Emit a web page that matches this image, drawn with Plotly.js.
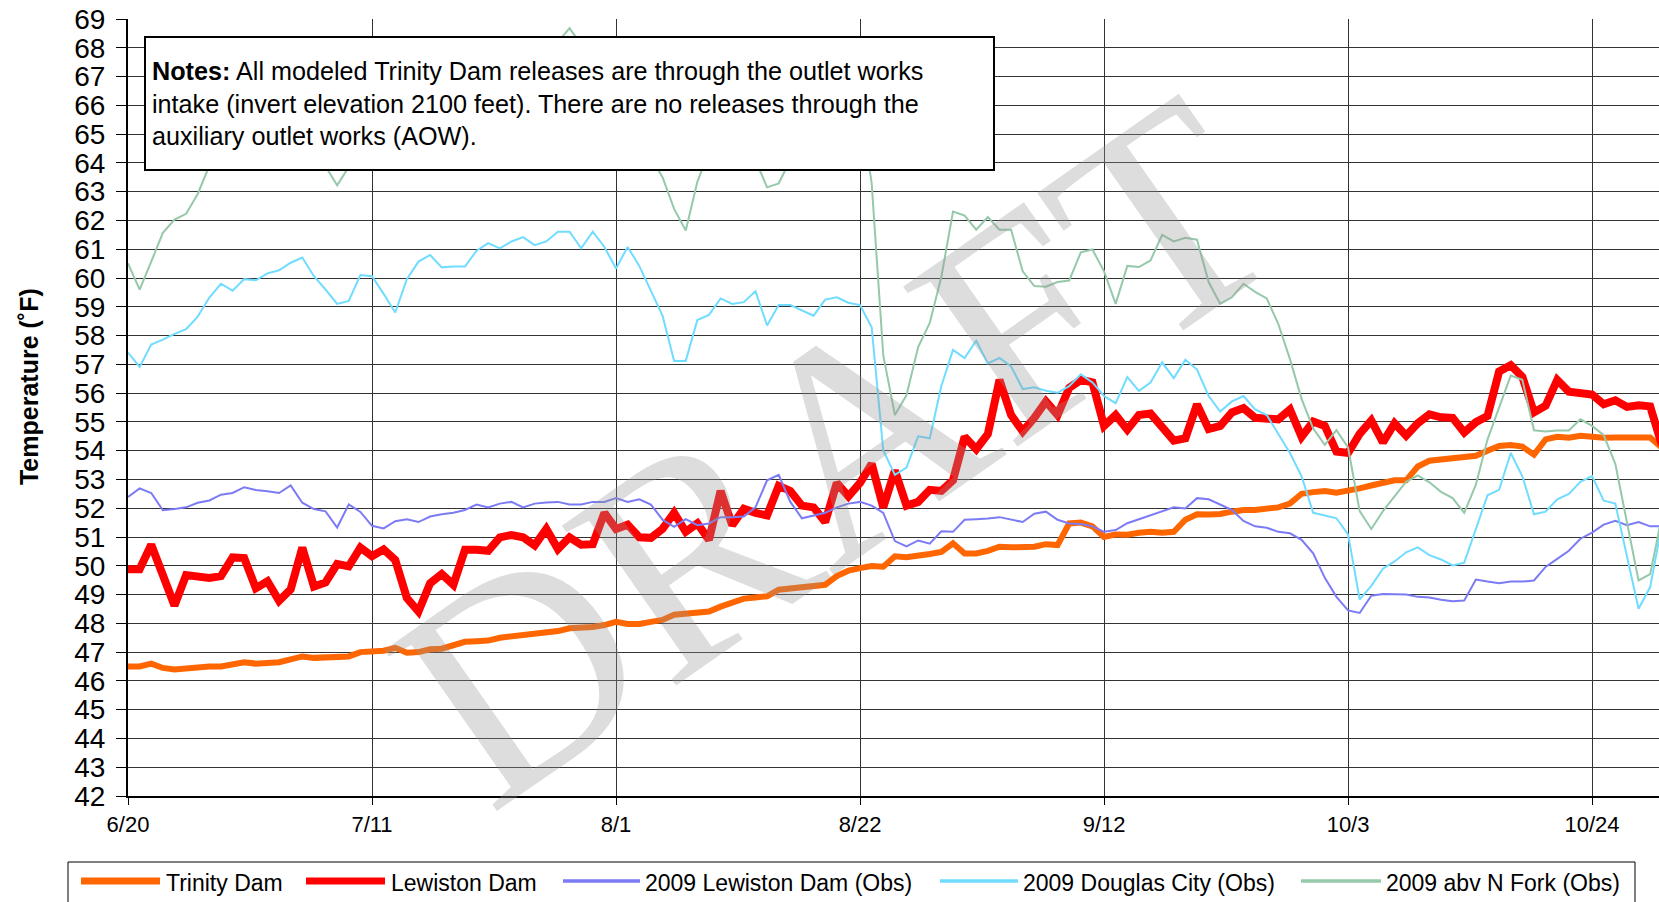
<!DOCTYPE html>
<html>
<head>
<meta charset="utf-8">
<script src="https://cdn.plot.ly/plotly-3.0.1.min.js"></script>
<style>
  html, body { margin: 0; padding: 0; background: #fff; }
  #chart { width: 1659px; height: 902px; }
</style>
</head>
<body>
<div id="chart"></div>
<script>
// ---- data (daily values starting 6/20/2009) ----
const startDate = [2009, 5, 20]; // 2009-06-20 (month index 5 = June)

const seriesNames = ['Trinity Dam', 'Lewiston Dam', '2009 Lewiston Dam (Obs)', '2009 Douglas City (Obs)', '2009 abv N Fork (Obs)'];

const trinityDam = [46.5,46.5,46.6,46.45,46.4,46.45,46.5,46.5,46.5,46.55,
46.65,46.6,46.6,46.65,46.75,46.85,46.8,46.8,46.85,46.85,
47.0,47.0,47.05,47.15,46.98,47.0,47.1,47.12,47.22,47.36,
47.38,47.4,47.5,47.55,47.55,47.6,47.65,47.73,47.83,47.83,
47.87,47.94,48.05,47.98,47.98,48.05,48.12,48.3,48.33,48.37,
48.41,48.58,48.73,48.86,48.9,48.94,49.17,49.2,49.26,49.3,
49.34,49.64,49.83,49.92,49.99,49.97,50.33,50.3,50.33,50.41,
50.48,50.78,50.43,50.43,50.52,50.66,50.64,50.64,50.66,50.75,
50.72,51.47,51.5,51.37,51.0,51.09,51.08,51.15,51.18,51.15,
51.18,51.6,51.79,51.78,51.8,51.88,51.94,51.94,51.97,52.03,
52.16,52.5,52.56,52.6,52.54,52.6,52.69,52.79,52.88,52.97,
52.97,53.45,53.65,53.7,53.75,53.77,53.82,54.0,54.16,54.2,
54.14,53.86,54.39,54.48,54.45,54.52,54.48,54.45,54.46,54.46,
54.46,54.46,54.1];

const lewistonDam = [49.88,49.88,50.73,49.72,48.62,49.68,49.62,49.58,49.64,50.29,
50.27,49.22,49.46,48.78,49.18,50.63,49.28,49.42,50.06,49.98,
50.63,50.33,50.57,50.2,48.88,48.41,49.39,49.71,49.34,50.56,
50.56,50.52,50.99,51.07,50.99,50.71,51.28,50.58,50.99,50.73,
50.75,51.84,51.28,51.43,50.99,50.97,51.28,51.84,51.18,51.47,
50.9,52.6,51.41,51.98,51.84,51.75,52.78,52.6,52.09,52.03,
51.52,52.88,52.41,52.88,53.54,52.03,53.31,52.09,52.22,52.64,
52.6,52.97,54.48,54.05,54.58,56.46,55.24,54.67,55.14,55.71,
55.24,56.18,56.46,56.37,54.86,55.24,54.73,55.24,55.29,54.77,
54.35,54.43,55.61,54.75,54.86,55.33,55.48,55.14,55.1,55.09,
55.43,54.48,55.01,54.86,53.97,53.92,54.58,55.05,54.29,54.95,
54.52,54.95,55.26,55.16,55.14,54.63,54.99,55.2,56.75,56.97,
56.56,55.33,55.56,56.46,56.05,56.02,55.95,55.61,55.75,55.52,
55.58,55.54,54.2];

const lewistonObs = [52.39,52.69,52.53,51.93,51.97,52.03,52.19,52.27,52.47,52.53,
52.73,52.63,52.59,52.53,52.79,52.19,51.97,51.89,51.33,52.13,
51.87,51.39,51.3,51.55,51.62,51.52,51.71,51.79,51.84,51.94,
52.13,52.03,52.16,52.22,52.03,52.16,52.2,52.22,52.13,52.13,
52.22,52.22,52.35,52.22,52.31,52.13,51.6,51.35,51.62,51.41,
51.47,51.69,51.69,51.71,52.03,52.97,53.16,52.22,51.65,51.75,
51.84,52.03,52.16,52.22,52.09,51.84,50.86,50.67,50.88,50.77,
51.2,51.18,51.6,51.62,51.64,51.69,51.6,51.52,51.81,51.88,
51.6,51.47,51.45,51.37,51.18,51.24,51.48,51.62,51.75,51.9,
52.03,51.99,52.35,52.31,52.13,51.94,51.56,51.37,51.32,51.18,
51.13,50.9,50.43,49.58,48.92,48.45,48.36,48.96,49.02,49.0,
49.0,48.92,48.9,48.82,48.77,48.79,49.52,49.45,49.39,49.45,
49.45,49.49,49.96,50.24,50.52,50.94,51.15,51.43,51.56,51.41,
51.52,51.37,51.37];

const douglasCityObs = [57.41,56.91,57.69,57.86,58.06,58.22,58.66,59.32,59.8,59.56,
59.96,59.92,60.16,60.27,60.53,60.71,60.06,59.6,59.1,59.2,
60.1,60.06,59.45,58.8,59.96,60.57,60.8,60.37,60.4,60.4,
60.95,61.21,61.03,61.27,61.42,61.14,61.27,61.61,61.61,61.03,
61.61,61.08,60.33,61.08,60.42,59.55,58.69,57.12,57.12,58.54,
58.72,59.29,59.1,59.16,59.54,58.35,59.06,59.06,58.88,58.69,
59.25,59.33,59.14,59.06,58.29,54.01,53.16,53.41,54.5,54.43,
56.25,57.5,57.22,57.82,57.03,57.22,56.93,56.14,56.2,56.08,
56.01,56.24,56.65,56.37,55.9,55.65,56.56,56.08,56.37,57.07,
56.52,57.16,56.82,55.9,55.36,55.71,55.9,55.43,55.24,54.58,
53.92,53.11,51.84,51.75,51.65,51.09,48.83,49.3,49.9,50.15,
50.47,50.64,50.37,50.22,50.01,50.11,51.28,52.45,52.64,53.92,
53.11,51.79,51.88,52.31,52.5,52.92,53.12,52.26,52.16,50.33,
48.51,49.26,51.4];

const abvNForkObs = [60.51,59.6,60.57,61.57,62.03,62.23,62.92,63.9,64.6,65.2,
65.5,65.8,66.0,65.6,65.0,64.6,64.3,63.88,63.22,63.88,
64.5,65.0,65.4,65.8,66.2,66.5,66.7,66.4,66.8,67.1,
66.9,67.2,67.4,67.1,67.5,67.7,67.9,68.2,68.68,68.1,
67.4,66.8,66.0,65.5,64.8,64.2,63.5,62.4,61.65,63.34,
64.4,65.0,64.7,64.2,64.1,63.15,63.29,64.1,64.8,65.3,
65.8,66.2,66.5,66.0,63.3,57.31,55.24,55.93,57.6,58.44,
60.04,62.31,62.17,61.68,62.12,61.68,61.68,60.23,59.72,59.7,
59.86,59.91,60.89,60.99,60.23,59.1,60.42,60.38,60.61,61.5,
61.27,61.4,61.33,59.86,59.1,59.33,59.8,59.52,59.29,58.4,
57.18,55.8,54.77,54.2,54.71,54.11,51.9,51.28,51.9,52.41,
52.92,53.14,52.9,52.57,52.35,51.84,52.82,54.39,55.48,56.61,
56.46,54.71,54.67,54.7,54.7,55.09,54.86,54.54,53.54,51.47,
49.49,49.71,51.7];

const tickDates = ['2009-06-20','2009-07-11','2009-08-01','2009-08-22','2009-09-12','2009-10-03','2009-10-24'];
const tickLabels = ['6/20','7/11','8/1','8/22','9/12','10/3','10/24'];
const xRange = ['2009-06-20', '2009-10-29 18:14'];
const yRange = [42, 69];

const notesText = '<b>Notes:</b> All modeled Trinity Dam releases are through the outlet works<br>intake (invert elevation 2100 feet). There are no releases through the<br>auxiliary outlet works (AOW).';
const yTitle = '&nbsp;&nbsp;&nbsp;&nbsp;&nbsp;&nbsp;<b>Temperature (˚F)</b>';
const watermarkText = 'DRAFT';

// ---- styles ----
const colors = ['#ff6600', '#ff0000', '#7b7bf5', '#70dcff', '#96c8aa'];
const widths = [6, 8, 2, 2, 2];
const legendLineWidths = [7, 7, 3.5, 3.5, 3.5];

function makeDates(n) {
  const out = [];
  for (let i = 0; i < n; i++) {
    const d = new Date(Date.UTC(startDate[0], startDate[1], startDate[2] + i));
    out.push(d.toISOString().slice(0, 10));
  }
  return out;
}

const allSeries = [trinityDam, lewistonDam, lewistonObs, douglasCityObs, abvNForkObs];
const traces = allSeries.map((vals, i) => ({
  type: 'scatter',
  mode: 'lines',
  name: seriesNames[i],
  x: makeDates(vals.length),
  y: vals,
  line: { color: colors[i], width: widths[i] },
  hoverinfo: 'skip'
}));

// plot-area geometry (px) for paper conversions of the legend/notes decorations
const L = 128, T = 19, W = 1659 - 128, H = 796 - 19;
const px = X => (X - L) / W;
const py = Y => (796 - Y) / H;

// custom legend (wide line swatches, as in the source chart)
const legendLineX = [[81,160],[306,385],[563,640],[940,1018],[1301,1381]];
const legendTextX = [164, 389, 643, 1021, 1384];
const shapes = [
  { type: 'rect', xref: 'paper', yref: 'paper', x0: px(68), x1: px(1635), y0: py(940), y1: py(862),
    line: { color: '#000', width: 1 }, fillcolor: 'rgba(0,0,0,0)', layer: 'above' }
];
const annotations = [
  { xref: 'paper', yref: 'paper', x: px(835), y: py(451), text: watermarkText, showarrow: false,
    textangle: -35, xanchor: 'center', yanchor: 'middle',
    font: { family: 'Liberation Serif, Times New Roman, serif', size: 300, color: 'rgba(150,150,150,0.32)' } },
  { xref: 'paper', yref: 'paper', x: px(144), y: py(36), xanchor: 'left', yanchor: 'top',
    width: 835, height: 119, align: 'left', valign: 'middle', showarrow: false,
    bgcolor: '#ffffff', bordercolor: '#000', borderwidth: 2, borderpad: 6,
    text: notesText, font: { size: 25.2, color: '#000' } }
];
seriesNames.forEach((name, i) => {
  shapes.push({ type: 'line', xref: 'paper', yref: 'paper',
    x0: px(legendLineX[i][0]), x1: px(legendLineX[i][1]), y0: py(881), y1: py(881),
    line: { color: colors[i], width: legendLineWidths[i] }, layer: 'above' });
  annotations.push({ xref: 'paper', yref: 'paper', x: px(legendTextX[i]), y: py(883),
    xanchor: 'left', yanchor: 'middle', showarrow: false, text: name,
    font: { size: 23, color: '#000' } });
});

const layout = {
  width: 1659, height: 902,
  margin: { l: L, r: 0, t: T, b: 902 - 796, pad: 0 },
  paper_bgcolor: '#ffffff', plot_bgcolor: '#ffffff',
  showlegend: false,
  font: { family: 'Liberation Sans, Arial, sans-serif', color: '#000' },
  xaxis: {
    type: 'date', range: xRange, tickmode: 'array', tickvals: tickDates, ticktext: tickLabels,
    showgrid: true, gridcolor: '#333333', gridwidth: 1, zeroline: false,
    showline: true, linecolor: '#000', linewidth: 1.5,
    ticks: 'outside', ticklen: 7, tickcolor: '#000', tickwidth: 1,
    tickfont: { size: 22, color: '#000' }, ticklabelstandoff: 1, fixedrange: true
  },
  yaxis: {
    range: yRange, tickmode: 'linear', tick0: 42, dtick: 1,
    showgrid: true, gridcolor: '#333333', gridwidth: 1, zeroline: false,
    showline: true, linecolor: '#000', linewidth: 2,
    ticks: 'outside', ticklen: 10, tickcolor: '#000', tickwidth: 1,
    tickfont: { size: 28, color: '#000' }, ticklabelstandoff: 5,
    title: { text: yTitle, font: { size: 25, color: '#000' }, standoff: 28 },
    fixedrange: true
  },
  shapes: shapes,
  annotations: annotations
};

Plotly.newPlot('chart', traces, layout, { displayModeBar: false, staticPlot: true });
</script>
</body>
</html>
